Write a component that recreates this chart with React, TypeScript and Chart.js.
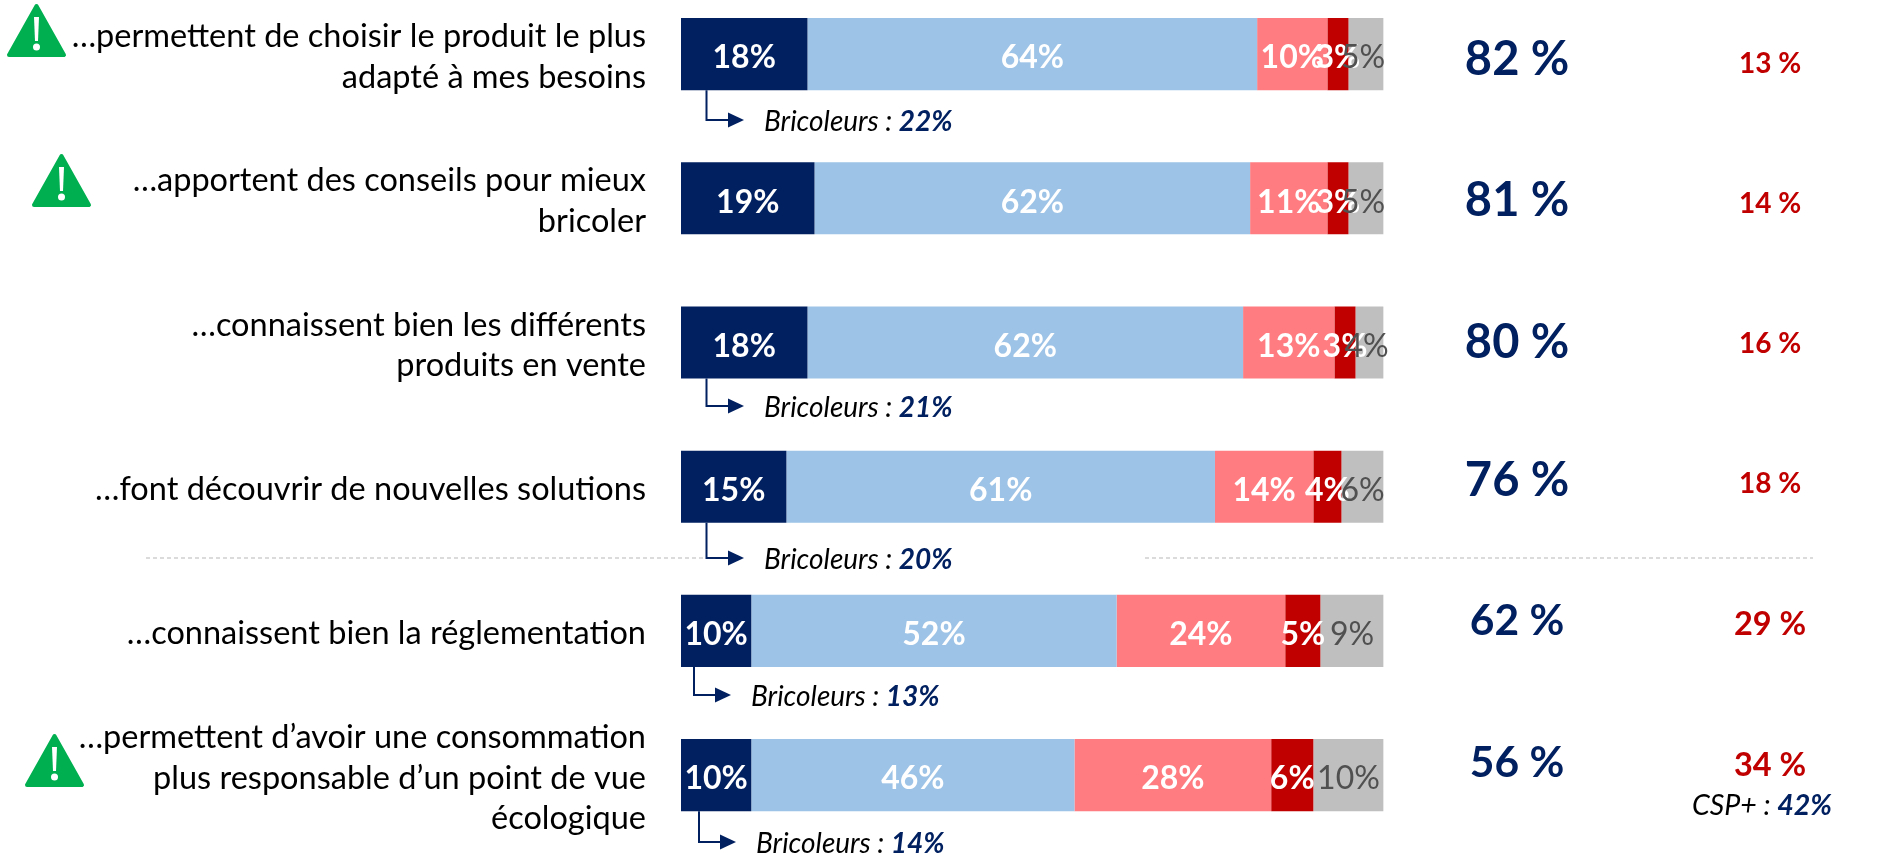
import React, { useEffect, useRef } from "react";
import { Chart, registerables } from "chart.js";

Chart.register(...registerables);

const categories: string[][] = [
  ["…permettent de choisir le produit le plus", "adapté à mes besoins"],
  ["…apportent des conseils pour mieux", "bricoler"],
  ["…connaissent bien les différents", "produits en vente"],
  ["…font découvrir de nouvelles solutions"],
  ["…connaissent bien la réglementation"],
  ["…permettent d’avoir une consommation", "plus responsable d’un point de vue", "écologique"],
];
const seriesA = [18, 19, 18, 15, 10, 10];
const seriesB = [64, 62, 62, 61, 52, 46];
const seriesC = [10, 11, 13, 14, 24, 28];
const seriesD = [3, 3, 3, 4, 5, 6];
const seriesE = [5, 5, 4, 6, 9, 10];
const totalsPositive = [82, 81, 80, 76, 62, 56];
const totalsNegative = [13, 14, 16, 18, 29, 34];
const bricoleurs: (number | null)[] = [22, null, 21, 20, 13, 14];
const warningRows = [0, 1, 5];

const FONT = "Lato";
const NAVY = "#002060";
const SHIFT = 18; // canvas sits 18px above the page top

// layout only (page px)
const posY = [60, 201, 343, 481, 621, 763];
const negY = [64, 204, 344, 484, 625, 766];
const calloutLayout = [
  { stem: 706.5, y: 120, tip: 744, text: 764 },
  null,
  { stem: 706.5, y: 406, tip: 744, text: 764 },
  { stem: 706.5, y: 558, tip: 744, text: 764 },
  { stem: 694, y: 695, tip: 731, text: 751 },
  { stem: 699, y: 842, tip: 736, text: 756 },
];
const iconLayout: Record<number, { l: number; r: number; t: number; b: number }> = {
  0: { l: 7, r: 66, t: 4, b: 57 },
  1: { l: 32, r: 91, t: 154, b: 207 },
  5: { l: 25, r: 84, t: 734, b: 787 },
};

function drawIcon(ctx: CanvasRenderingContext2D, l: number, r: number, t: number, b: number) {
  const cx = (l + r) / 2;
  const tt = t + SHIFT;
  const bb = b + SHIFT;
  ctx.save();
  ctx.fillStyle = "#00B050";
  ctx.strokeStyle = "#00B050";
  ctx.lineJoin = "round";
  ctx.lineWidth = 4;
  ctx.beginPath();
  ctx.moveTo(cx, tt + 2);
  ctx.lineTo(r - 2, bb - 2);
  ctx.lineTo(l + 2, bb - 2);
  ctx.closePath();
  ctx.fill();
  ctx.stroke();
  ctx.fillStyle = "#fff";
  ctx.beginPath();
  ctx.moveTo(cx - 2.5, tt + 13);
  ctx.lineTo(cx + 2.5, tt + 13);
  ctx.lineTo(cx + 1.5, tt + 37);
  ctx.lineTo(cx - 1.5, tt + 37);
  ctx.closePath();
  ctx.fill();
  ctx.beginPath();
  ctx.arc(cx, tt + 43, 3.5, 0, Math.PI * 2);
  ctx.fill();
  ctx.restore();
}

const annotations = {
  id: "annotations",
  afterDatasetsDraw(chart: any) {
    const { ctx } = chart;
    const xs = chart.scales.x;
    ctx.save();

    // segment value labels
    chart.data.datasets.forEach((ds: any, di: number) => {
      const meta = chart.getDatasetMeta(di);
      meta.data.forEach((bar: any, i: number) => {
        const c = bar.getCenterPoint();
        const v = ds.data[i];
        ctx.font = `${di === 4 ? "400" : "700"} 32px ${FONT}`;
        ctx.fillStyle = di === 4 ? "#505050" : "#ffffff";
        ctx.textAlign = "center";
        ctx.textBaseline = "middle";
        ctx.fillText(`${v}%`, c.x - (di === 4 && v <= 5 ? 3 : 0), c.y + 4);
      });
    });

    // side columns
    const colA = xs.getPixelForValue(119);
    const colB = xs.getPixelForValue(155);
    totalsPositive.forEach((v, i) => {
      ctx.font = `700 ${i < 4 ? 47 : 42.5}px ${FONT}`;
      ctx.fillStyle = NAVY;
      ctx.textAlign = "center";
      ctx.textBaseline = "middle";
      ctx.fillText(`${v} %`, colA, posY[i] + SHIFT);
    });
    totalsNegative.forEach((v, i) => {
      ctx.font = `700 ${i < 4 ? 28 : 32.5}px ${FONT}`;
      ctx.fillStyle = "#C00000";
      ctx.textAlign = "center";
      ctx.textBaseline = "middle";
      ctx.fillText(`${v} %`, colB, negY[i] + SHIFT);
    });

    // CSP+ note
    ctx.textAlign = "left";
    ctx.textBaseline = "middle";
    ctx.font = `italic 400 28.5px ${FONT}`;
    ctx.fillStyle = "#000";
    const cspLabel = "CSP+ : ";
    ctx.fillText(cspLabel, 1692, 806 + SHIFT);
    const w0 = ctx.measureText(cspLabel).width;
    ctx.font = `italic 700 28.5px ${FONT}`;
    ctx.fillStyle = NAVY;
    ctx.fillText("42%", 1692 + w0, 806 + SHIFT);

    // dashed separators
    ctx.strokeStyle = "#D0D0D0";
    ctx.lineWidth = 1.5;
    ctx.setLineDash([4, 3]);
    ctx.beginPath();
    ctx.moveTo(146, 558 + SHIFT);
    ctx.lineTo(703, 558 + SHIFT);
    ctx.moveTo(1145, 558 + SHIFT);
    ctx.lineTo(1813, 558 + SHIFT);
    ctx.stroke();
    ctx.setLineDash([]);

    // Bricoleurs callouts
    bricoleurs.forEach((v, i) => {
      const l = calloutLayout[i];
      if (v === null || !l) return;
      const barBottom = chart.getDatasetMeta(0).data[i].getProps(["y", "height"]);
      const top = barBottom.y + barBottom.height / 2;
      const y = l.y + SHIFT;
      ctx.strokeStyle = NAVY;
      ctx.lineWidth = 2;
      ctx.beginPath();
      ctx.moveTo(l.stem, top);
      ctx.lineTo(l.stem, y);
      ctx.lineTo(l.tip - 14, y);
      ctx.stroke();
      ctx.fillStyle = NAVY;
      ctx.beginPath();
      ctx.moveTo(l.tip, y);
      ctx.lineTo(l.tip - 16, y - 7.5);
      ctx.lineTo(l.tip - 16, y + 7.5);
      ctx.closePath();
      ctx.fill();
      ctx.textAlign = "left";
      ctx.textBaseline = "middle";
      ctx.font = `italic 400 28px ${FONT}`;
      ctx.fillStyle = "#000";
      const label = "Bricoleurs : ";
      ctx.fillText(label, l.text, y + 2);
      const w = ctx.measureText(label).width;
      ctx.font = `italic 700 28px ${FONT}`;
      ctx.fillStyle = NAVY;
      ctx.fillText(`${v}%`, l.text + w, y + 2);
    });

    warningRows.forEach((r) => {
      const ic = iconLayout[r];
      drawIcon(ctx, ic.l, ic.r, ic.t, ic.b);
    });
    ctx.restore();
  },
};

export default function App() {
  const ref = useRef<HTMLCanvasElement>(null);
  useEffect(() => {
    const chart = new Chart(ref.current as HTMLCanvasElement, {
      type: "bar",
      data: {
        labels: categories as any,
        datasets: [
          { label: "A", data: seriesA, backgroundColor: NAVY },
          { label: "B", data: seriesB, backgroundColor: "#9DC3E6" },
          { label: "C", data: seriesC, backgroundColor: "#FF7C80" },
          { label: "D", data: seriesD, backgroundColor: "#C00000" },
          { label: "E", data: seriesE, backgroundColor: "#BFBFBF" },
        ],
      },
      options: {
        indexAxis: "y",
        responsive: false,
        animation: false,
        layout: { padding: { left: 0, right: 519.4, top: 0, bottom: 10.8 } },
        plugins: { legend: { display: false }, tooltip: { enabled: false } },
        datasets: { bar: { categoryPercentage: 1, barPercentage: 0.5, borderWidth: 0 } },
        scales: {
          x: { type: "linear", stacked: true, min: 0, max: 100, display: false },
          y: {
            stacked: true,
            grid: { display: false, drawTicks: false },
            border: { display: false },
            afterFit: (s: any) => {
              s.width = 681;
              s.paddingTop = 0;
              s.paddingBottom = 0;
            },
            ticks: {
              autoSkip: false,
              padding: 35,
              labelOffset: 3,
              color: "#000",
              font: { family: FONT, size: 32.5, lineHeight: 1.25 },
            },
          },
        },
      },
      plugins: [annotations],
    } as any);
    return () => chart.destroy();
  }, []);
  return (
    <canvas
      ref={ref}
      width={1903}
      height={876}
      style={{ position: "absolute", left: 0, top: -SHIFT, display: "block" }}
    />
  );
}
